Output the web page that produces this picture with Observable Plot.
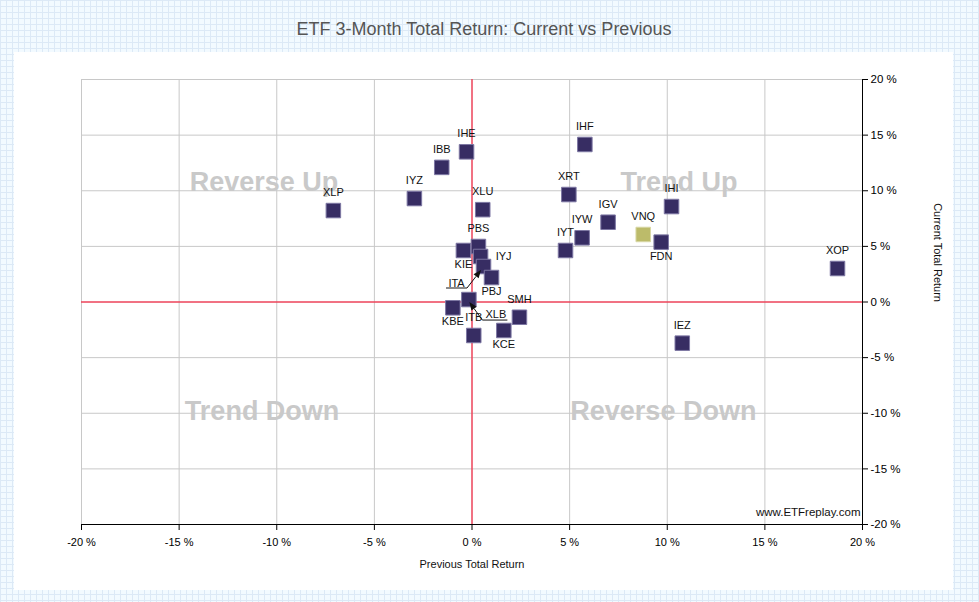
<!DOCTYPE html>
<html><head><meta charset="utf-8">
<script src="https://cdn.jsdelivr.net/npm/d3@7"></script>
<script src="https://cdn.jsdelivr.net/npm/@observablehq/plot@0.6"></script>
<style>
html,body{margin:0;padding:0;}
body{width:979px;height:602px;overflow:hidden;position:relative;background-color:#f2faff;
background-image:linear-gradient(#dce9f6 1px, transparent 1px),linear-gradient(90deg,#dce9f6 1px, transparent 1px);
background-size:6px 6px;font-family:"Liberation Sans",Arial,sans-serif;}
#title{position:absolute;left:0;width:968px;top:19px;text-align:center;font-size:18px;color:#555;}
#panel{position:absolute;left:14px;top:52px;width:939px;height:538px;background:#fff;}
#panel svg{display:block;}
</style></head><body>
<div id="title">ETF 3-Month Total Return: Current vs Previous</div>
<div id="panel"></div>
<script>
// ---- data ----
const tickers  = ["XLP","IYZ","IBB","IHE","XLU","IHF","XRT","IGV","IYW","IYT","VNQ","FDN","IHI","XOP","IEZ","PBS","IYJ","ITA","PBJ","KIE","XLB","KBE","ITB","KCE","SMH"];
const previous = [-7.1,-2.95,-1.55,-0.28,0.55,5.78,4.96,6.97,5.64,4.79,8.77,9.69,10.22,18.72,10.77,0.33,0.44,0.59,1.0,-0.44,-0.16,-0.98,0.09,1.63,2.43];
const current  = [8.22,9.3,12.1,13.5,8.3,14.16,9.66,7.17,5.77,4.63,6.07,5.38,8.58,3.01,-3.7,4.99,4.09,3.19,2.2,4.63,0.22,-0.52,-3.01,-2.56,-1.37];
const highlighted = ["VNQ"];
const tickValues = [-20,-15,-10,-5,0,5,10,15,20];
const quadrantNames = ["Reverse Up","Trend Up","Trend Down","Reverse Down"];
const quadrantX = [-10.65,10.6,-10.75,9.8];
const quadrantY = [10.74,10.74,-9.84,-9.84];
const xTitle = "Previous Total Return";
const yTitle = "Current Total Return";
const credit = "www.ETFreplay.com";

// ---- label layout (pixel offsets) ----
const labelSide = {KIE:"below",PBJ:"below",KBE:"below",KCE:"below",FDN:"below",IYJ:"right",ITA:"callout",XLB:"callout"};
const calloutLayout = [
  {ticker:"ITA", label:[-27,17], under:[[-37,22],[-16,22]], underColor:"#8a8a8a", underWidth:2, head:[-2,4]},
  {ticker:"XLB", label:[27,15], under:[[14,21],[39,21]], underColor:"#111", underWidth:1, head:[1,3]}
];

const points = tickers.map((t,i)=>({ticker:t, prev:previous[i], curr:current[i], hi:highlighted.includes(t)}));
const quadrants = quadrantNames.map((n,i)=>({name:n, x:quadrantX[i], y:quadrantY[i]}));
const side = d => labelSide[d.ticker] || "above";
const pct = d => d + " %";
const labelFont = {fontSize:11, fill:"#111", fontFamily:"Liberation Sans, Arial, sans-serif"};

function calloutMark(index, scales) {
  const g = d3.create("svg:g");
  for (const c of calloutLayout) {
    const p = points.find(d => d.ticker === c.ticker);
    const px = scales.x(p.prev), py = scales.y(p.curr);
    const [a,b] = c.under;
    g.append("line").attr("x1",px+a[0]).attr("y1",py+a[1]).attr("x2",px+b[0]).attr("y2",py+b[1])
      .attr("stroke",c.underColor).attr("stroke-width",c.underWidth);
    const sx = px + (c.label[0] < 0 ? b[0] : a[0]), sy = py + a[1];
    const hx = px + c.head[0], hy = py + c.head[1];
    const ang = Math.atan2(hy - sy, hx - sx);
    const L = 8, W = 3.2;
    const bx = hx - L*Math.cos(ang), by = hy - L*Math.sin(ang);
    g.append("line").attr("x1",sx).attr("y1",sy).attr("x2",bx).attr("y2",by).attr("stroke","#111").attr("stroke-width",1);
    const nx = -Math.sin(ang)*W, ny = Math.cos(ang)*W;
    g.append("path").attr("d",`M${hx},${hy}L${bx+nx},${by+ny}L${bx-nx},${by-ny}Z`).attr("fill","#111");
  }
  return g.node();
}

const marks = [
  Plot.gridX(tickValues, {stroke:"#c8c8c8", strokeOpacity:1}),
  Plot.gridY(tickValues, {stroke:"#c8c8c8", strokeOpacity:1}),
  Plot.ruleX([0], {stroke:"#ff0022"}),
  Plot.ruleY([0], {stroke:"#ff0022"}),
  Plot.text(quadrants, {x:"x", y:"y", text:"name", fontSize:27, fontWeight:"bold", fill:"#c9c9c9", fontFamily:"Liberation Sans, Arial, sans-serif"}),
  Plot.ruleX([20], {stroke:"#000"}),
  Plot.ruleY([-20], {stroke:"#000", insetRight:-4}),
  Plot.axisX({ticks:tickValues, tickFormat:pct, tickSize:6, tickPadding:8, label:null, fontSize:11, color:"#000"}),
  Plot.axisY({anchor:"right", ticks:tickValues, tickFormat:pct, tickSize:5, tickPadding:3, label:null, fontSize:11.5, color:"#000"}),
  Plot.dot(points, {x:"prev", y:"curr", symbol:"square", r:8.2, fill:d => d.hi ? "#bcbb6a" : "#372d63", stroke:d => d.hi ? "#d9d8a6" : "#7d77a3", strokeWidth:1}),
  Plot.text(points.filter(d => side(d)==="above"), {x:"prev", y:"curr", text:"ticker", dy:-18, ...labelFont}),
  Plot.text(points.filter(d => side(d)==="below"), {x:"prev", y:"curr", text:"ticker", dy:14, ...labelFont}),
  Plot.text(points.filter(d => side(d)==="right"), {x:"prev", y:"curr", text:"ticker", dx:23, ...labelFont}),
  ...calloutLayout.map(c => Plot.text(points.filter(d => d.ticker===c.ticker), {x:"prev", y:"curr", text:"ticker", dx:c.label[0], dy:c.label[1], ...labelFont})),
  calloutMark,
  Plot.text([credit], {frameAnchor:"bottom-right", textAnchor:"end", dx:-2, dy:-9, fontSize:11.5, fill:"#111"}),
  Plot.text([xTitle], {frameAnchor:"bottom", dy:43, fontSize:11, fill:"#111"}),
  Plot.text([yTitle], {frameAnchor:"right", dx:75, rotate:90, fontSize:11, fill:"#111"})
];

const chart = Plot.plot({
  width:939, height:538,
  marginLeft:67, marginRight:91, marginTop:27, marginBottom:66,
  style:{background:"transparent", fontFamily:"Liberation Sans, Arial, sans-serif", fontSize:"11px", color:"#000", overflow:"visible"},
  x:{domain:[-20,20]},
  y:{domain:[-20,20]},
  marks
});
document.getElementById("panel").appendChild(chart);
</script>
</body></html>
